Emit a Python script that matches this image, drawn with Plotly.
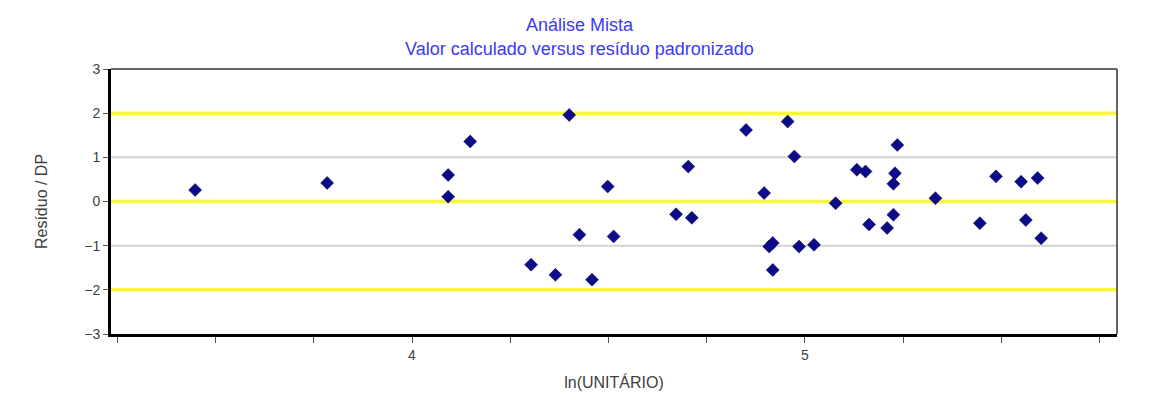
import plotly.graph_objects as go

# Data
ln_unitario = [3.448, 3.784, 4.092, 4.092, 4.148, 4.400, 4.303, 4.365, 4.458, 4.426,
               4.498, 4.513, 4.703, 4.672, 4.712, 4.850, 4.956, 4.973, 4.896, 4.918,
               4.909, 4.918, 4.985, 5.023, 5.078, 5.132, 5.154, 5.163, 5.209, 5.225,
               5.235, 5.229, 5.225, 5.332, 5.445, 5.486, 5.550, 5.562, 5.592, 5.601]
residuo_dp = [0.26, 0.42, 0.60, 0.11, 1.36, 1.96, -1.43, -1.66, -1.77, -0.75,
              0.34, -0.79, 0.79, -0.29, -0.37, 1.62, 1.81, 1.02, 0.19, -0.94,
              -1.02, -1.55, -1.02, -0.98, -0.04, 0.72, 0.68, -0.52, -0.60, -0.30,
              1.28, 0.64, 0.40, 0.075, -0.49, 0.57, 0.45, -0.42, 0.53, -0.83]

x_tickvals = [3.25, 3.5, 3.75, 4.0, 4.25, 4.5, 4.75, 5.0, 5.25, 5.5, 5.75]
x_ticktext = ["", "", "", "4", "", "", "", "5", "", "", ""]
y_tickvals = [-3, -2, -1, 0, 1, 2, 3]
yellow_levels = [-2, 0, 2]
gray_levels = [-1, 1]
title_lines = ["Análise Mista", "Valor calculado versus resíduo padronizado"]

fig = go.Figure()
fig.add_trace(go.Scatter(
    x=ln_unitario, y=residuo_dp, mode="markers",
    marker=dict(symbol="diamond", size=10, color="#0c0c8a",
                line=dict(color="#000050", width=0.5)),
    showlegend=False, hoverinfo="x+y"))

shapes = []
for lv in gray_levels:
    shapes.append(dict(type="line", xref="paper", yref="y", x0=0, x1=1, y0=lv, y1=lv,
                       line=dict(color="#d2d2d2", width=2), layer="below"))
for lv in yellow_levels:
    shapes.append(dict(type="line", xref="paper", yref="y", x0=0, x1=1, y0=lv, y1=lv,
                       line=dict(color="#f7f73c", width=3.5), layer="below"))
# top and right frame (thin)
shapes.append(dict(type="line", xref="paper", yref="paper", x0=0, x1=1, y0=1, y1=1,
                   line=dict(color="#333333", width=1.5)))
shapes.append(dict(type="line", xref="paper", yref="paper", x0=1, x1=1, y0=0, y1=1,
                   line=dict(color="#333333", width=1.5)))

font_family = "Arial, Liberation Sans, sans-serif"
title_font = dict(family=font_family, size=18, color="#3a3af5")
annotations = [
    dict(text=title_lines[0], xref="paper", yref="paper", x=0.466, y=1.166,
         xanchor="center", yanchor="middle", showarrow=False, font=title_font),
    dict(text=title_lines[1], xref="paper", yref="paper", x=0.466, y=1.075,
         xanchor="center", yanchor="middle", showarrow=False, font=title_font),
]

fig.update_layout(
    width=1144, height=397,
    margin=dict(l=103, r=35, t=61, b=71, autoexpand=False),
    paper_bgcolor="white", plot_bgcolor="white",
    font=dict(family=font_family, size=14, color="#404040"),
    shapes=shapes,
    annotations=annotations,
    xaxis=dict(range=[3.234, 5.794], tickmode="array", tickvals=x_tickvals,
               ticktext=x_ticktext, ticks="outside", ticklen=6, tickcolor="#555555",
               showgrid=False, zeroline=False, showline=True, linecolor="black",
               linewidth=3, automargin=False,
               title=dict(text="ln(UNITÁRIO)", standoff=16,
                          font=dict(family=font_family, size=16, color="#404040"))),
    yaxis=dict(range=[-3, 3], tickmode="array", tickvals=y_tickvals,
               ticks="outside", ticklen=5, tickcolor="#555555",
               showgrid=False, zeroline=False, showline=True, linecolor="black",
               linewidth=3, automargin=False,
               title=dict(text="Resíduo / DP", standoff=33,
                          font=dict(family=font_family, size=16, color="#404040"))),
)

fig.write_html("out.html")
